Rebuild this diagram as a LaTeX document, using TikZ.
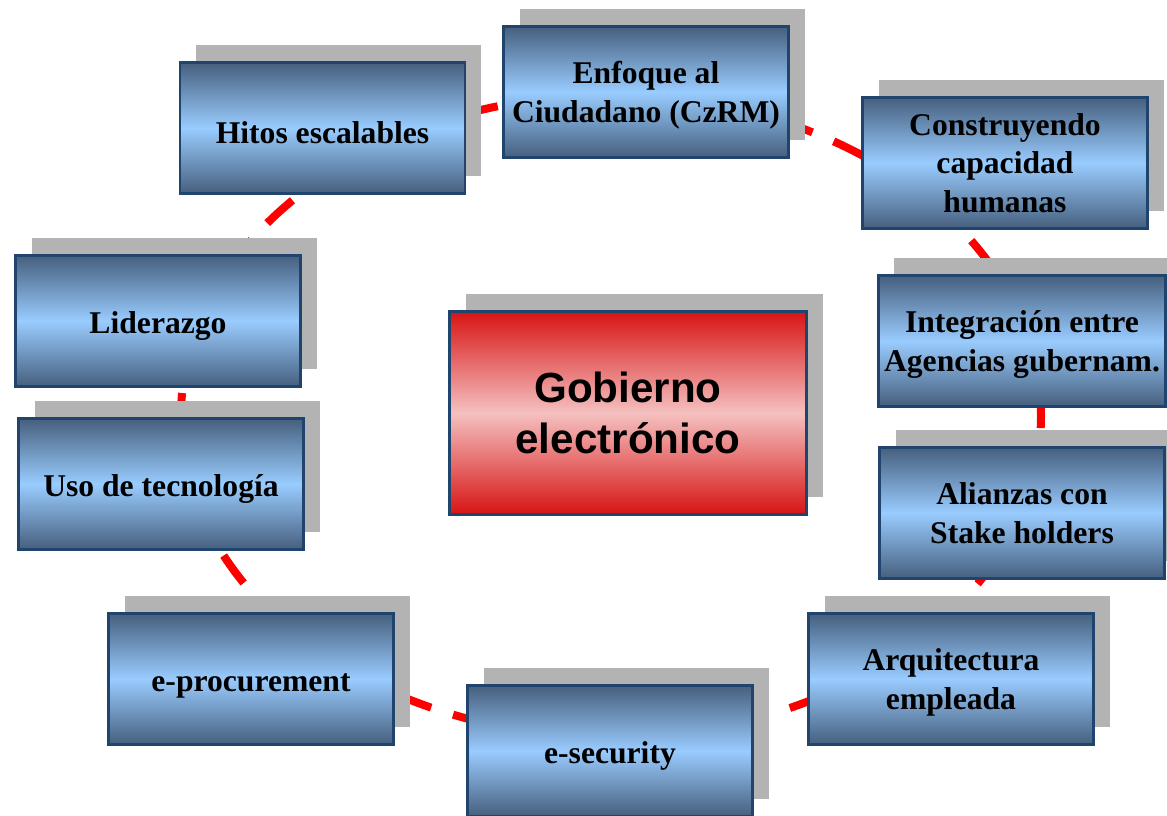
\documentclass[tikz,border=0pt]{standalone}
\usepackage{fontspec}
\setmainfont{Liberation Serif}
\newfontfamily\arialfont{Liberation Sans}
\usepackage{tikz}
\usetikzlibrary{shadows}

\definecolor{boxdark}{RGB}{70,95,125}
\definecolor{boxlight}{RGB}{153,204,255}
\definecolor{boxline}{RGB}{31,69,110}
\definecolor{shadowgray}{RGB}{179,179,179}
\definecolor{reddark}{RGB}{215,20,20}
\definecolor{redlight}{RGB}{245,192,192}

\begin{document}
\begin{tikzpicture}[-,auto,
		thick,main node/.style={rectangle,draw=boxline,line width=1.7pt,
			top color=boxdark,bottom color=boxdark,middle color=boxlight,
			minimum width=5.7cm,minimum height=2.62cm,align=center,
			font=\fontsize{18}{22}\selectfont\bfseries,
			execute at begin node={\rule{0pt}{18pt}},
			drop shadow={shadow xshift=.32cm,shadow yshift=.35cm,
				fill=shadowgray,opacity=1}},
		flat node/.style={main node,text depth=0pt},
		center node/.style={main node,top color=reddark,bottom color=reddark,
			middle color=redlight,minimum width=7.14cm,minimum height=4.06cm,
			execute at begin node={},
			font=\arialfont\fontsize{24}{29}\selectfont\bfseries},
		ring/.style={draw=red,line width=0.16cm,dash pattern=on 0.68cm off 0.46cm}]
	
	\useasboundingbox (0,0) rectangle (23.34,16.3);
	
	% the dashed ring behind the boxes, starting under the top box
	\coordinate (O) at (12.22,7.98);
	\draw[ring] (O) ++(0,6.42) arc[start angle=90,delta angle=360,
		x radius=8.6cm,y radius=6.42cm];
	
	\node[main node] (A) at (6.45,13.74) {Hitos escalables};
	\node[flat node] (B) at (12.92,14.46) {Enfoque al\\Ciudadano (CzRM)};
	\node[main node] (C) at (20.10,13.04) {Construyendo\\capacidad\\humanas};
	\node[flat node] (D) at (20.44,9.48) {Integración entre\\Agencias gubernam.};
	\node[main node] (E) at (20.44,6.04) {Alianzas con\\Stake holders};
	\node[flat node] (F) at (19.02,2.72) {Arquitectura\\empleada};
	\node[main node] (G) at (12.20,1.28) {e-security};
	\node[main node] (H) at (5.02,2.72) {e-procurement};
	\node[main node] (I) at (3.22,6.62) {Uso de tecnología};
	\node[main node] (J) at (3.16,9.88) {Liderazgo};
	
	\node[center node] (K) at (12.56,8.04) {Gobierno\\electrónico};
\end{tikzpicture}
\end{document}
